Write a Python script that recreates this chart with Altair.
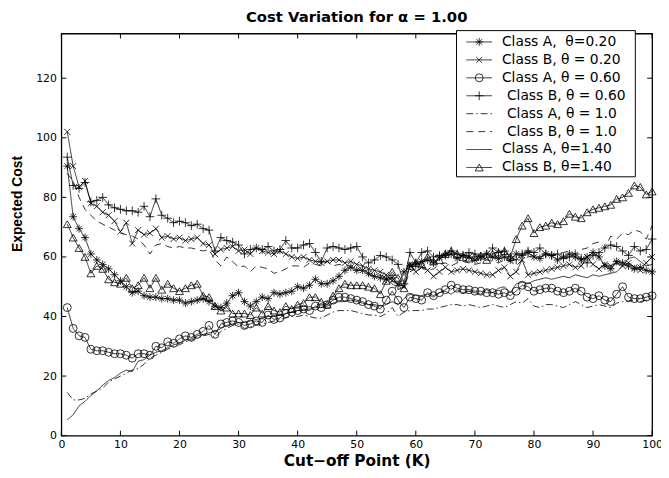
import altair as alt
import pandas as pd

K = list(range(1, 101))

labels = [
    "Class A,\u00a0 θ=0.20",
    "Class B, θ = 0.20",
    "Class A, θ = 0.60",
    "Class B, θ = 0.60",
    "Class A, θ = 1.0",
    "Class B, θ = 1.0",
    "Class A, θ=1.40",
    "Class B, θ=1.40",
]

a020 = [90.5, 73.5, 69.5, 66.5, 61, 59, 57.5, 56, 54, 52,
        50, 48, 48.5, 47, 46.5, 46.5, 46, 46, 45.5, 45.5,
        44.5, 45, 45.5, 46, 45, 43.5, 43, 44.5, 47, 48,
        45, 43.5, 45, 46.5, 46, 48, 47.5, 48, 48.5, 50,
        49.5, 50.5, 52.5, 51, 51, 52, 53.5, 55.5, 56.5, 55.5,
        55.5, 54.5, 53.5, 53, 52.5, 53, 50.5, 55, 57, 57.5,
        58.5, 59, 58, 60, 60.5, 61, 59.5, 60.5, 60, 59,
        60, 61, 60, 59.5, 60, 59, 61, 60.5, 61.5, 60,
        59.5, 61, 60.5, 59, 60, 61, 60, 59, 60, 61.5,
        60, 57, 56, 58.5, 58, 57, 56, 56.5, 55.5, 55]

b020 = [102, 90.5, 83.5, 85.5, 78, 77, 75, 74, 72, 68.5,
        71.5, 64.5, 69, 67.5, 68, 69.5, 66.5, 67, 66, 66.5,
        65.5, 66, 66.5, 64.5, 64, 61, 62.5, 63, 63.5, 62,
        62.5, 61, 63, 62, 61.5, 61, 62, 61, 60, 59.5,
        60, 59, 58.5, 58, 58.5, 59, 59, 58, 58.5, 57.5,
        57, 56, 55.5, 55, 54, 52, 51, 50, 57.5, 55,
        56.5, 55.5, 53.5, 55, 56.5, 55, 55.5, 56, 55.5, 55,
        54.5, 54, 54, 55.5, 56.5, 53.5, 55, 59, 54, 54.5,
        55, 55.5, 56, 56.5, 57, 57.5, 56.5, 57, 60, 57.5,
        56, 57.5, 57, 58, 57, 58, 56.5, 55.5, 58, 60]

a060 = [43, 36, 33.5, 33, 29, 28.5, 28.5, 28, 27.5, 27.5,
        27, 26, 27.5, 27.5, 27, 30, 29.5, 31.5, 31, 32.5,
        33.5, 33, 34, 35, 37, 34, 37.5, 38, 38.5, 38,
        37, 37.5, 38.5, 38, 40.5, 39, 39.5, 41, 41.5, 42,
        42.5, 42, 43.5, 43, 44, 45.5, 46.5, 46.5, 46, 45.5,
        45, 44, 43.5, 42.5, 45.5, 48.5, 45.5, 43, 46.5, 46,
        45.5, 48, 47, 48, 49, 50.5, 49.5, 49, 49, 48.5,
        48.5, 48, 48, 47.5, 48, 47, 48.5, 50.5, 50, 48.5,
        49, 49.5, 49.5, 48.5, 48, 48.5, 49.5, 48.5, 46.5, 46,
        47, 45.5, 45, 47.5, 50, 46.5, 46, 46, 46.5, 47]

b060 = [93.5, 84, 83, 85, 78.5, 79, 80, 77.5, 76.5, 76,
        75.5, 75.5, 75, 77, 73.5, 79.5, 74, 73, 71.5, 72,
        71.5, 70.5, 71, 69.5, 69, 62, 66.5, 65.5, 65, 64,
        61, 62.5, 63, 62.5, 63.5, 62, 62.5, 65.5, 63, 63,
        64, 64.5, 61.5, 58.5, 63, 63.5, 63, 62.5, 63, 63.5,
        60, 58, 59, 60.5, 60, 59, 57.5, 51, 61.5, 58,
        61.5, 62, 60, 60.5, 61, 62, 61, 60.5, 61.5, 61,
        60, 61, 63, 61.5, 62, 60, 59, 61, 62, 61.5,
        63, 61, 60.5, 61, 59.5, 60, 61, 59.5, 58, 60.5,
        61.5, 63, 64, 63.5, 62, 60.5, 63.5, 62, 62.5, 66]

a100 = [14.5, 12, 12, 12.5, 14, 15, 16, 18, 19, 20,
        21, 22, 22.5, 24, 26, 27, 28, 29, 30, 30.5,
        31.5, 32, 33, 33.5, 34, 33, 35, 36, 37, 37.5,
        36, 36.5, 37, 37.5, 38, 38.5, 39, 39.5, 40, 40,
        40.5, 40, 39.5, 39.5, 40.5, 41.5, 42, 42, 42, 41.5,
        41, 40.5, 40.5, 40, 41, 43, 40, 41.5, 42, 42,
        42, 42.5, 42.5, 43, 43.5, 44, 44, 43.5, 44, 43.5,
        43, 43.5, 44, 43.5, 43, 44, 45, 44.5, 46, 43.5,
        43, 44, 44, 43.5, 43, 44, 45, 44, 43, 43.5,
        44, 43.5, 43, 44.5, 45, 45, 45.5, 45, 45.5, 46]

b100 = [88, 85.5, 80, 76, 74, 72, 71, 70, 69, 68,
        67.5, 67, 66, 64, 61, 64, 64.5, 63.5, 63, 63.5,
        63, 63, 62.5, 62, 62.5, 59, 57, 60, 58.5, 56.5,
        57, 55, 57, 56.5, 56, 54.5, 55, 56, 57, 57,
        56.5, 58, 57.5, 57, 58.5, 57, 57.5, 57, 57, 56.5,
        55, 54, 53.5, 54, 53, 51, 49, 50, 55, 56,
        57, 55.5, 56, 57.5, 58, 57, 58, 58.5, 58, 57.5,
        58, 59, 58.5, 58, 59, 58.5, 57, 59, 60, 60.5,
        60, 61, 60.5, 61, 61.5, 62, 61, 62.5, 63, 64.5,
        65, 63, 67, 66, 68, 67.5, 69, 68.5, 66, 70.5]

a140 = [5.3, 7, 10, 11.5, 13.5, 15, 17, 18.5, 19.5, 21,
        22, 21.5, 25, 25.5, 27, 28, 28.5, 29.5, 30.5, 31,
        32, 32.5, 33.5, 34, 34.5, 35, 36, 37, 37.5, 38,
        38, 38.5, 39, 39.5, 40, 40, 40.5, 41, 41.5, 42,
        42, 42.5, 43, 43, 43.5, 44.5, 45, 45, 45.5, 45,
        44.5, 44, 44, 43.5, 44, 45, 44, 46, 47.5, 47,
        47, 47.5, 46.5, 48, 48.5, 47.5, 49, 48, 48.5, 48,
        47.5, 49, 48, 49.5, 50, 48, 51, 51.5, 51, 52,
        52.5, 53, 52.5, 53, 53.5, 53, 54, 53.5, 53, 54,
        53.5, 54, 54.5, 55, 57, 59.5, 60, 58.5, 57, 57.5]

b140 = [71, 66.5, 63, 60, 54.5, 57, 56, 52.5, 51.5, 51,
        53, 49.5, 50.5, 53, 49.5, 53, 49, 51, 49.5, 48.5,
        49.5, 50.5, 51, 47, 46.5, 43.5, 42, 43, 41, 41,
        41, 40.5, 43, 41, 43.5, 42, 41.5, 43.5, 42.5, 44,
        44.5, 46.5, 46.5, 45, 44, 47, 49.5, 51, 50.5, 50.5,
        50.5, 50, 49.5, 47.5, 52, 55, 53, 49.5, 57, 58,
        57.5, 60, 58.5, 59, 61, 62, 61, 60, 59.5, 60,
        60.5, 59, 61, 61.5, 62, 60, 66, 70.5, 73, 68,
        70, 70.5, 71.5, 71, 72, 74.5, 73.5, 73, 75, 76,
        76.5, 77, 77.5, 79.5, 80, 81.5, 84, 83.5, 81, 82]

series_values = [a020, b020, a060, b060, a100, b100, a140, b140]

x_ticks = list(range(0, 101, 10))
y_ticks = list(range(0, 121, 20))

# ---- layout / style ----
W, H = 598, 407
XMAX, YMAX = 100, 135
FONT = "DejaVu Sans"
FONT_N = "Liberation Sans"

dash_range = [[1, 0], [1, 0], [1, 0], [1, 0], [7, 3, 1.5, 3], [7, 5], [1, 0], [1, 0]]
marker_idx = [0, 1, 2, 3, 7]
marker_labels = [labels[i] for i in marker_idx]
shapes = [
    "M-1,0L1,0M0,-1L0,1M-0.7,-0.7L0.7,0.7M-0.7,0.7L0.7,-0.7",
    "M-0.75,-0.75L0.75,0.75M-0.75,0.75L0.75,-0.75",
    "circle",
    "M-1.1,0L1.1,0M0,-1.1L0,1.1",
    "triangle-up",
]

rows = []
for lab, vals in zip(labels, series_values):
    for k, v in zip(K, vals):
        rows.append({"k": k, "v": v, "series": lab})
df = pd.DataFrame(rows)


def xd(px):
    return (px - 62) / W * XMAX


def yd(py):
    return (438 - py) / H * YMAX


xscale = alt.Scale(domain=[0, XMAX], nice=False, zero=False)
yscale = alt.Scale(domain=[0, YMAX], nice=False, zero=False)
xaxis = alt.Axis(title="Cut−off Point (K)", values=x_ticks, ticks=False, tickSize=0,
                 domain=False, grid=False, labelFont=FONT, labelFontSize=11,
                 labelColor="black", titleFont=FONT, titleFontSize=15.5,
                 titleFontWeight="bold", titleColor="black", labelPadding=3,
                 titlePadding=4, labelFlush=False)
yaxis = alt.Axis(title="Expected Cost", values=y_ticks, ticks=False, tickSize=0,
                 domain=False, grid=False, labelFont=FONT, labelFontSize=11,
                 labelColor="black", titleFont=FONT_N, titleFontSize=14,
                 titleFontWeight="bold", titleColor="black", labelPadding=5,
                 titlePadding=11, titleY=172)


def X(f):
    return alt.X(f, scale=xscale, axis=xaxis)


def Y(f):
    return alt.Y(f, scale=yscale, axis=yaxis)


dash_enc = alt.StrokeDash("series:N", scale=alt.Scale(domain=labels, range=dash_range), legend=None)
shape_enc = alt.Shape("series:N", scale=alt.Scale(domain=marker_labels, range=shapes), legend=None)

lines = alt.Chart(df).mark_line(color="black", strokeWidth=0.8).encode(
    x=X("k:Q"), y=Y("v:Q"), strokeDash=dash_enc, detail="series:N")

points = alt.Chart(df).transform_filter(
    alt.FieldOneOfPredicate(field="series", oneOf=marker_labels)
).mark_point(filled=False, color="black", strokeWidth=0.8, size=64, opacity=1).encode(
    x=X("k:Q"), y=Y("v:Q"), shape=shape_enc)

xt = pd.DataFrame({"t": x_ticks})
yt = pd.DataFrame({"t": y_ticks})
tick_b = alt.Chart(xt).mark_rule(color="black", strokeWidth=1).encode(
    x=X("t:Q"), y=alt.value(H), y2=alt.value(H - 5))
tick_t = alt.Chart(xt).mark_rule(color="black", strokeWidth=1).encode(
    x=X("t:Q"), y=alt.value(0), y2=alt.value(5))
tick_l = alt.Chart(yt).mark_rule(color="black", strokeWidth=1).encode(
    y=Y("t:Q"), x=alt.value(0), x2=alt.value(5))
tick_r = alt.Chart(yt).mark_rule(color="black", strokeWidth=1).encode(
    y=Y("t:Q"), x=alt.value(W), x2=alt.value(W - 5))

# ---- legend box ----
leg_box = pd.DataFrame({"x1": [xd(462)], "x2": [xd(643)], "y1": [yd(28)], "y2": [yd(176)]})
box = alt.Chart(leg_box).mark_rect(fill="white", stroke="black", strokeWidth=1).encode(
    x=X("x1:Q"), x2="x2:Q", y=Y("y1:Q"), y2="y2:Q")

leg = pd.DataFrame({"series": labels, "row": list(range(len(labels)))})
leg["ly"] = [yd(39.5 + 18.15 * r) for r in leg["row"]]
leg["lx1"] = xd(472)
leg["lx2"] = xd(498)
leg["mx"] = xd(485)
leg["tx"] = [xd(513) if r in (3, 4, 5) else xd(508) for r in leg["row"]]

leg_lines = alt.Chart(leg).mark_rule(color="black", strokeWidth=0.8).encode(
    x=X("lx1:Q"), x2="lx2:Q", y=Y("ly:Q"), strokeDash=dash_enc)
leg_marks = alt.Chart(leg).transform_filter(
    alt.FieldOneOfPredicate(field="series", oneOf=marker_labels)
).mark_point(filled=False, color="black", strokeWidth=0.8, size=64, opacity=1).encode(
    x=X("mx:Q"), y=Y("ly:Q"), shape=shape_enc)
leg_text = alt.Chart(leg).mark_text(align="left", baseline="middle", font=FONT,
                                    fontSize=14, color="black").encode(
    x=X("tx:Q"), y=Y("ly:Q"), text="series:N")

chart = alt.layer(
    lines, points, tick_b, tick_t, tick_l, tick_r, box, leg_lines, leg_marks, leg_text
).properties(
    width=W, height=H,
    title=alt.Title("Cost Variation for α = 1.00", font=FONT, fontSize=15,
                    fontWeight="bold", color="black", anchor="middle", offset=5),
    padding={"left": 54, "top": 23, "right": 9, "bottom": 40},
    autosize=alt.AutoSizeParams(type="none"),
).configure_view(stroke="black", strokeWidth=1.3)

chart.save("out.html", embed_options={"renderer": "svg", "actions": False})
